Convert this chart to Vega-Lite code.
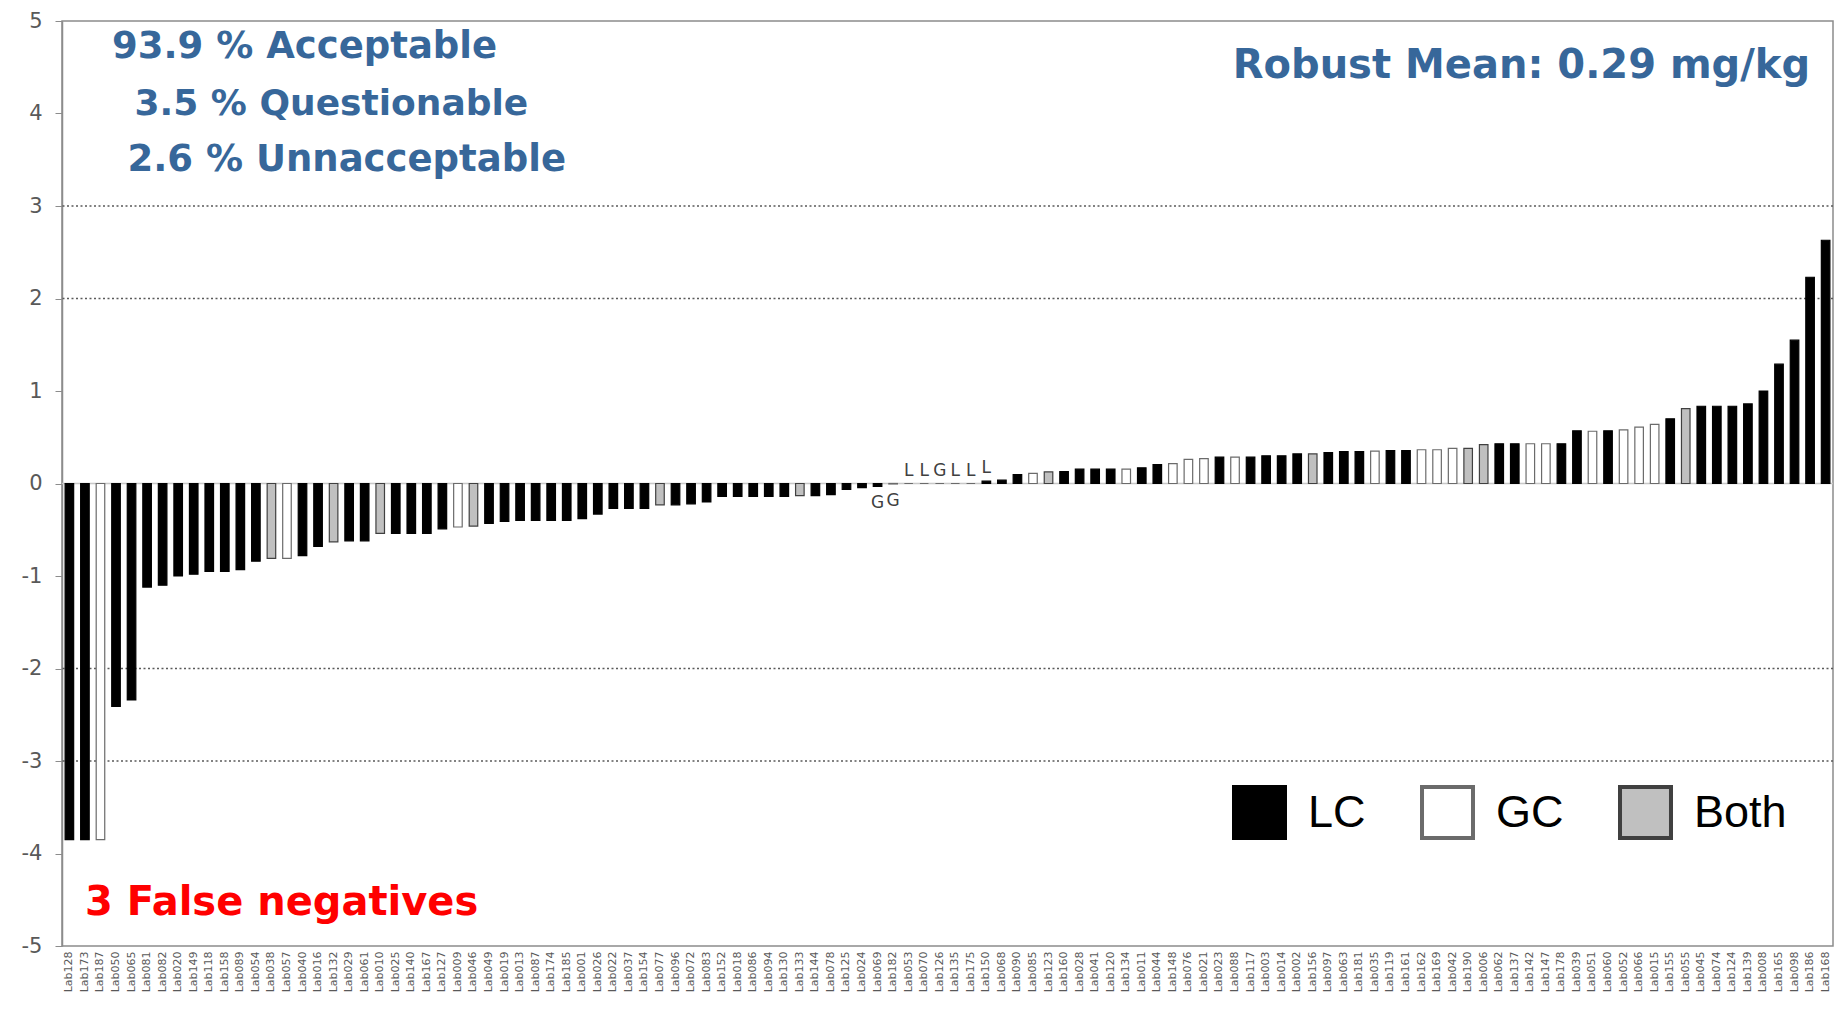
{
  "$schema": "https://vega.github.io/schema/vega-lite/v6.json",
  "width": 1771,
  "height": 925,
  "autosize": {"type": "none"},
  "padding": {"left": 62, "top": 21, "right": 12, "bottom": 63},
  "background": "white",
  "config": {
    "view": {"stroke": "#8c8c8c", "strokeWidth": 1.5},
    "font": "DejaVu Sans"
  },
  "data": {
    "values": [
      {"lab": "Lab128", "z": -3.85, "type": "LC", "note": ""},
      {"lab": "Lab173", "z": -3.85, "type": "LC", "note": ""},
      {"lab": "Lab187", "z": -3.85, "type": "GC", "note": ""},
      {"lab": "Lab050", "z": -2.41, "type": "LC", "note": ""},
      {"lab": "Lab065", "z": -2.34, "type": "LC", "note": ""},
      {"lab": "Lab081", "z": -1.12, "type": "LC", "note": ""},
      {"lab": "Lab082", "z": -1.10, "type": "LC", "note": ""},
      {"lab": "Lab020", "z": -1.00, "type": "LC", "note": ""},
      {"lab": "Lab149", "z": -0.98, "type": "LC", "note": ""},
      {"lab": "Lab118", "z": -0.95, "type": "LC", "note": ""},
      {"lab": "Lab158", "z": -0.95, "type": "LC", "note": ""},
      {"lab": "Lab089", "z": -0.93, "type": "LC", "note": ""},
      {"lab": "Lab054", "z": -0.84, "type": "LC", "note": ""},
      {"lab": "Lab038", "z": -0.81, "type": "Both", "note": ""},
      {"lab": "Lab057", "z": -0.81, "type": "GC", "note": ""},
      {"lab": "Lab040", "z": -0.78, "type": "LC", "note": ""},
      {"lab": "Lab016", "z": -0.68, "type": "LC", "note": ""},
      {"lab": "Lab132", "z": -0.63, "type": "Both", "note": ""},
      {"lab": "Lab029", "z": -0.62, "type": "LC", "note": ""},
      {"lab": "Lab061", "z": -0.62, "type": "LC", "note": ""},
      {"lab": "Lab010", "z": -0.54, "type": "Both", "note": ""},
      {"lab": "Lab025", "z": -0.54, "type": "LC", "note": ""},
      {"lab": "Lab140", "z": -0.54, "type": "LC", "note": ""},
      {"lab": "Lab167", "z": -0.54, "type": "LC", "note": ""},
      {"lab": "Lab127", "z": -0.49, "type": "LC", "note": ""},
      {"lab": "Lab009", "z": -0.47, "type": "GC", "note": ""},
      {"lab": "Lab046", "z": -0.46, "type": "Both", "note": ""},
      {"lab": "Lab049", "z": -0.43, "type": "LC", "note": ""},
      {"lab": "Lab019", "z": -0.41, "type": "LC", "note": ""},
      {"lab": "Lab013", "z": -0.40, "type": "LC", "note": ""},
      {"lab": "Lab087", "z": -0.40, "type": "LC", "note": ""},
      {"lab": "Lab174", "z": -0.40, "type": "LC", "note": ""},
      {"lab": "Lab185", "z": -0.40, "type": "LC", "note": ""},
      {"lab": "Lab001", "z": -0.38, "type": "LC", "note": ""},
      {"lab": "Lab026", "z": -0.33, "type": "LC", "note": ""},
      {"lab": "Lab022", "z": -0.27, "type": "LC", "note": ""},
      {"lab": "Lab037", "z": -0.27, "type": "LC", "note": ""},
      {"lab": "Lab154", "z": -0.27, "type": "LC", "note": ""},
      {"lab": "Lab077", "z": -0.23, "type": "Both", "note": ""},
      {"lab": "Lab096", "z": -0.23, "type": "LC", "note": ""},
      {"lab": "Lab072", "z": -0.22, "type": "LC", "note": ""},
      {"lab": "Lab083", "z": -0.20, "type": "LC", "note": ""},
      {"lab": "Lab152", "z": -0.14, "type": "LC", "note": ""},
      {"lab": "Lab018", "z": -0.14, "type": "LC", "note": ""},
      {"lab": "Lab086", "z": -0.14, "type": "LC", "note": ""},
      {"lab": "Lab094", "z": -0.14, "type": "LC", "note": ""},
      {"lab": "Lab130", "z": -0.14, "type": "LC", "note": ""},
      {"lab": "Lab133", "z": -0.13, "type": "Both", "note": ""},
      {"lab": "Lab144", "z": -0.13, "type": "LC", "note": ""},
      {"lab": "Lab078", "z": -0.12, "type": "LC", "note": ""},
      {"lab": "Lab125", "z": -0.065, "type": "LC", "note": ""},
      {"lab": "Lab024", "z": -0.045, "type": "LC", "note": ""},
      {"lab": "Lab069", "z": -0.03, "type": "LC", "note": "G"},
      {"lab": "Lab182", "z": -0.005, "type": "GC", "note": "G"},
      {"lab": "Lab053", "z": 0, "type": "GC", "note": "L"},
      {"lab": "Lab070", "z": 0, "type": "GC", "note": "L"},
      {"lab": "Lab126", "z": 0, "type": "GC", "note": "G"},
      {"lab": "Lab135", "z": 0, "type": "GC", "note": "L"},
      {"lab": "Lab175", "z": 0, "type": "GC", "note": "L"},
      {"lab": "Lab150", "z": 0.025, "type": "LC", "note": "L"},
      {"lab": "Lab068", "z": 0.036, "type": "LC", "note": ""},
      {"lab": "Lab090", "z": 0.097, "type": "LC", "note": ""},
      {"lab": "Lab085", "z": 0.11, "type": "GC", "note": ""},
      {"lab": "Lab123", "z": 0.125, "type": "Both", "note": ""},
      {"lab": "Lab160", "z": 0.13, "type": "LC", "note": ""},
      {"lab": "Lab028", "z": 0.155, "type": "LC", "note": ""},
      {"lab": "Lab041", "z": 0.155, "type": "LC", "note": ""},
      {"lab": "Lab120", "z": 0.155, "type": "LC", "note": ""},
      {"lab": "Lab134", "z": 0.155, "type": "GC", "note": ""},
      {"lab": "Lab011", "z": 0.17, "type": "LC", "note": ""},
      {"lab": "Lab044", "z": 0.205, "type": "LC", "note": ""},
      {"lab": "Lab148", "z": 0.215, "type": "GC", "note": ""},
      {"lab": "Lab076", "z": 0.26, "type": "GC", "note": ""},
      {"lab": "Lab021", "z": 0.27, "type": "GC", "note": ""},
      {"lab": "Lab023", "z": 0.285, "type": "LC", "note": ""},
      {"lab": "Lab088", "z": 0.285, "type": "GC", "note": ""},
      {"lab": "Lab117", "z": 0.285, "type": "LC", "note": ""},
      {"lab": "Lab003", "z": 0.30, "type": "LC", "note": ""},
      {"lab": "Lab014", "z": 0.30, "type": "LC", "note": ""},
      {"lab": "Lab002", "z": 0.32, "type": "LC", "note": ""},
      {"lab": "Lab156", "z": 0.32, "type": "Both", "note": ""},
      {"lab": "Lab097", "z": 0.335, "type": "LC", "note": ""},
      {"lab": "Lab063", "z": 0.345, "type": "LC", "note": ""},
      {"lab": "Lab181", "z": 0.345, "type": "LC", "note": ""},
      {"lab": "Lab035", "z": 0.35, "type": "GC", "note": ""},
      {"lab": "Lab119", "z": 0.355, "type": "LC", "note": ""},
      {"lab": "Lab161", "z": 0.355, "type": "LC", "note": ""},
      {"lab": "Lab162", "z": 0.365, "type": "GC", "note": ""},
      {"lab": "Lab169", "z": 0.365, "type": "GC", "note": ""},
      {"lab": "Lab042", "z": 0.38, "type": "GC", "note": ""},
      {"lab": "Lab190", "z": 0.38, "type": "Both", "note": ""},
      {"lab": "Lab006", "z": 0.42, "type": "Both", "note": ""},
      {"lab": "Lab062", "z": 0.43, "type": "LC", "note": ""},
      {"lab": "Lab137", "z": 0.43, "type": "LC", "note": ""},
      {"lab": "Lab142", "z": 0.43, "type": "GC", "note": ""},
      {"lab": "Lab147", "z": 0.43, "type": "GC", "note": ""},
      {"lab": "Lab178", "z": 0.43, "type": "LC", "note": ""},
      {"lab": "Lab039", "z": 0.57, "type": "LC", "note": ""},
      {"lab": "Lab051", "z": 0.565, "type": "GC", "note": ""},
      {"lab": "Lab060", "z": 0.57, "type": "LC", "note": ""},
      {"lab": "Lab052", "z": 0.58, "type": "GC", "note": ""},
      {"lab": "Lab066", "z": 0.61, "type": "GC", "note": ""},
      {"lab": "Lab015", "z": 0.64, "type": "GC", "note": ""},
      {"lab": "Lab155", "z": 0.70, "type": "LC", "note": ""},
      {"lab": "Lab055", "z": 0.81, "type": "Both", "note": ""},
      {"lab": "Lab045", "z": 0.835, "type": "LC", "note": ""},
      {"lab": "Lab074", "z": 0.835, "type": "LC", "note": ""},
      {"lab": "Lab124", "z": 0.835, "type": "LC", "note": ""},
      {"lab": "Lab139", "z": 0.86, "type": "LC", "note": ""},
      {"lab": "Lab008", "z": 1.00, "type": "LC", "note": ""},
      {"lab": "Lab165", "z": 1.29, "type": "LC", "note": ""},
      {"lab": "Lab098", "z": 1.55, "type": "LC", "note": ""},
      {"lab": "Lab186", "z": 2.23, "type": "LC", "note": ""},
      {"lab": "Lab168", "z": 2.63, "type": "LC", "note": ""}
    ]
  },
  "encoding": {
    "x": {
      "field": "lab",
      "type": "nominal",
      "sort": null,
      "scale": {"paddingInner": 0.45, "paddingOuter": 0.2},
      "axis": {
        "title": null,
        "labelAngle": -90,
        "labelFontSize": 11,
        "labelFont": "DejaVu Sans",
        "labelColor": "#595959",
        "labelPadding": 5,
        "ticks": false,
        "domain": false
      }
    }
  },
  "layer": [
    {
      "data": {"values": [{"level": 0}]},
      "mark": {"type": "rule", "color": "#c8c8c8", "strokeWidth": 1.5},
      "encoding": {"x": null, "y": {"field": "level", "type": "quantitative"}}
    },
    {
      "data": {"values": [{"level": -3}, {"level": -2}, {"level": 2}, {"level": 3}]},
      "mark": {"type": "rule", "color": "#5a5a5a", "strokeWidth": 1.5, "strokeDash": [2, 2.5]},
      "encoding": {"x": null, "y": {"field": "level", "type": "quantitative"}}
    },
    {
      "mark": {"type": "bar", "strokeWidth": 1.2},
      "encoding": {
        "y": {
          "field": "z",
          "type": "quantitative",
          "scale": {"domain": [-5, 5], "nice": false},
          "axis": {
            "title": null,
            "values": [-5, -4, -3, -2, -1, 0, 1, 2, 3, 4, 5],
            "labelExpr": "datum.value < 0 ? '-' + abs(datum.value) : '' + datum.value",
            "grid": false,
            "tickSize": 7,
            "tickColor": "#8c8c8c",
            "domainColor": "#8c8c8c",
            "domainWidth": 1.5,
            "labelFontSize": 21,
            "labelColor": "#595959",
            "labelPadding": 13,
            "labelFont": "DejaVu Sans"
          }
        },
        "fill": {
          "field": "type",
          "type": "nominal",
          "scale": {"domain": ["LC", "GC", "Both"], "range": ["#000000", "#ffffff", "#c0c0c0"]},
          "legend": {
            "title": null,
            "orient": "none",
            "legendX": 1170,
            "legendY": 764,
            "direction": "horizontal",
            "padding": 0,
            "symbolType": "square",
            "symbolSize": 2600,
            "symbolStrokeWidth": 4,
            "symbolStrokeColor": "#000000",
            "labelFontSize": 45,
            "labelFont": "Liberation Sans",
            "labelColor": "#000000",
            "labelOffset": 21,
            "columnPadding": 48,
            "encode": {
              "symbols": {"update": {"stroke": {"value": "#000000"}, "strokeWidth": {"value": 4}, "opacity": {"value": 1}}}
            }
          }
        },
        "stroke": {
          "field": "type",
          "type": "nominal",
          "scale": {"domain": ["LC", "GC", "Both"], "range": ["#000000", "#6b6b6b", "#404040"]},
          "legend": null
        }
      }
    },
    {
      "transform": [{"filter": "datum.note != '' && datum.z >= 0"}],
      "mark": {"type": "text", "baseline": "bottom", "dy": -4, "fontSize": 17, "color": "#404040", "font": "DejaVu Sans"},
      "encoding": {
        "y": {"field": "z", "type": "quantitative"},
        "text": {"field": "note"}
      }
    },
    {
      "transform": [{"filter": "datum.note != '' && datum.z < 0"}],
      "mark": {"type": "text", "baseline": "top", "dy": 9, "fontSize": 17, "color": "#404040", "font": "DejaVu Sans"},
      "encoding": {
        "y": {"field": "z", "type": "quantitative"},
        "text": {"field": "note"}
      }
    },
    {
      "data": {"values": [{"label": "93.9 % Acceptable"}]},
      "mark": {"type": "text", "align": "left", "baseline": "middle", "dx": -4, "fontSize": 37, "fontWeight": "bold", "color": "#37679a", "font": "DejaVu Sans"},
      "encoding": {"x": {"datum": "Lab050"}, "y": {"datum": 4.72}, "text": {"field": "label"}}
    },
    {
      "data": {"values": [{"label": "3.5 % Questionable"}]},
      "mark": {"type": "text", "align": "left", "baseline": "middle", "dx": 3, "fontSize": 36, "fontWeight": "bold", "color": "#37679a", "font": "DejaVu Sans"},
      "encoding": {"x": {"datum": "Lab065"}, "y": {"datum": 4.1}, "text": {"field": "label"}}
    },
    {
      "data": {"values": [{"label": "2.6 % Unnacceptable"}]},
      "mark": {"type": "text", "align": "left", "baseline": "middle", "dx": -4, "fontSize": 37, "fontWeight": "bold", "color": "#37679a", "font": "DejaVu Sans"},
      "encoding": {"x": {"datum": "Lab065"}, "y": {"datum": 3.5}, "text": {"field": "label"}}
    },
    {
      "data": {"values": [{"label": "Robust Mean: 0.29 mg/kg"}]},
      "mark": {"type": "text", "align": "right", "baseline": "middle", "fontSize": 40, "fontWeight": "bold", "color": "#37679a", "font": "DejaVu Sans"},
      "encoding": {"x": {"datum": "Lab186"}, "y": {"datum": 4.51}, "text": {"field": "label"}}
    },
    {
      "data": {"values": [{"label": "3 False negatives"}]},
      "mark": {"type": "text", "align": "left", "baseline": "middle", "fontSize": 40, "fontWeight": "bold", "color": "#ff0000", "font": "DejaVu Sans"},
      "encoding": {"x": {"datum": "Lab173"}, "y": {"datum": -4.54}, "text": {"field": "label"}}
    }
  ]
}
